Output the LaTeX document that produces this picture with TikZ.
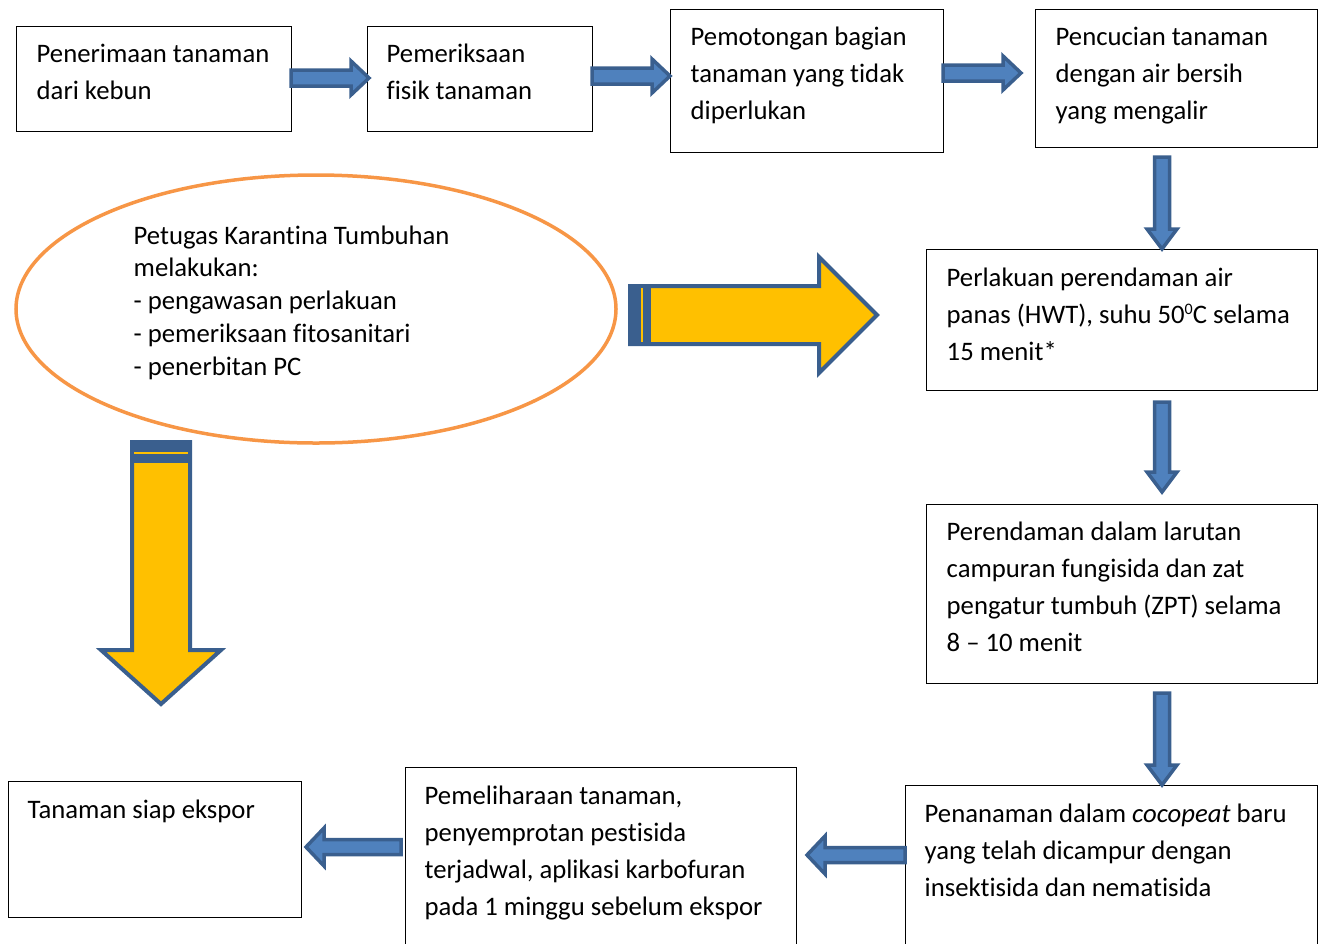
\documentclass[tikz,border=0pt]{standalone}
\usepackage{fontspec}
\setmainfont[Ligatures={NoCommon,NoContextual}]{Carlito}
\usetikzlibrary{calc,shapes.geometric}
\definecolor{bfill}{HTML}{4F81BD}
\definecolor{bline}{HTML}{3A5F8E}
\definecolor{yfill}{HTML}{FFC000}
\definecolor{oline}{HTML}{F79646}
\newcommand\blockarrow[6]{%
  \coordinate (bah) at ($(#3)!#6!(#2)$);
  \draw[#1] ($(#2)!#4!90:(#3)$) -- ($(bah)!#4!90:(#3)$) -- ($(bah)!#5!90:(#3)$) -- (#3)
    -- ($(bah)!#5!-90:(#3)$) -- ($(bah)!#4!-90:(#3)$) -- ($(#2)!#4!-90:(#3)$) -- cycle;}
\newcommand\supzero{\raisebox{8.5pt}{\fontsize{16}{16}\selectfont 0}}
\begin{document}
\begin{tikzpicture}[x=1pt,y=-1pt,
  box/.style={draw=black,line width=1pt,fill=white,inner sep=0pt,outer sep=0pt,anchor=north west},
  txt/.style={inner sep=0pt,anchor=north west,align=left,font=\fontsize{26.7}{37}\selectfont},
  etxt/.style={inner sep=0pt,anchor=north west,align=left,font=\fontsize{26.7}{32.7}\selectfont},
  blue arrow/.style={fill=bfill,draw=bline,line width=3.5pt,line join=miter},
  yellow arrow/.style={fill=yfill,draw=bline,line width=4pt,line join=miter}]
\useasboundingbox (0,0) rectangle (1319,943);
\def\st{\rule{0pt}{22pt}}
% boxes
\node[box,minimum width=275,minimum height=105] (b1) at (16,26) {};
\node[box,minimum width=225,minimum height=105] (b2) at (367,26) {};
\node[box,minimum width=273,minimum height=143] (b3) at (670,9) {};
\node[box,minimum width=282,minimum height=138] (b4) at (1035,9) {};
\node[box,minimum width=391,minimum height=141] (b5) at (926,249) {};
\node[box,minimum width=391,minimum height=179] (b6) at (926,504) {};
\node[box,minimum width=412,minimum height=175] (b7) at (905,785) {};
\node[box,minimum width=391,minimum height=193] (b8) at (405,767) {};
\node[box,minimum width=293,minimum height=136] (b9) at (8,781) {};
\node[ellipse,draw=oline,line width=3.5pt,inner sep=0pt,minimum width=600,minimum height=268] (ell) at (316,309) {};
% texts
\node[txt] (t1) at (36.5,40.5) {\st Penerimaan tanaman\\dari kebun};
\node[txt] (t2) at (386.5,40.5) {\st Pemeriksaan\\fisik tanaman};
\node[txt] (t3) at (690.5,23.5) {\st Pemotongan bagian\\tanaman yang tidak\\diperlukan};
\node[txt] (t4) at (1055.5,23.5) {\st Pencucian tanaman\\dengan air bersih\\yang mengalir};
\node[txt] (t5) at (946.5,264) {\st Perlakuan perendaman air\\panas (HWT), suhu 50\supzero C selama\\15 menit*};
\node[txt] (t6) at (946.5,518) {\st Perendaman dalam larutan\\campuran fungisida dan zat\\pengatur tumbuh (ZPT) selama\\8 – 10 menit};
\node[txt] (t7) at (924.5,800) {\st Penanaman dalam \textit{cocopeat} baru\\yang telah dicampur dengan\\insektisida dan nematisida};
\node[txt] (t8) at (424.5,782.5) {\st Pemeliharaan tanaman,\\penyemprotan pestisida\\terjadwal, aplikasi karbofuran\\pada 1 minggu sebelum ekspor};
\node[txt] (t9) at (27.5,796) {\st Tanaman siap ekspor};
\node[etxt] (tell) at (133.5,222) {\st Petugas Karantina Tumbuhan\\melakukan:\\- pengawasan perlakuan\\- pemeriksaan fitosanitari\\- penerbitan PC};
% blue arrows
\coordinate (a1s) at (b1.east |- 0,78);  \coordinate (a1e) at (369,78);
\coordinate (a2s) at (b2.east |- 0,76);  \coordinate (a2e) at (b3.west |- 0,76);
\coordinate (a3s) at (b3.east |- 0,73);  \coordinate (a3e) at (1021,73);
\coordinate (d1s) at (1162,157);         \coordinate (d1e) at (b5.north -| 1162,0);
\coordinate (d2s) at (1162,402);         \coordinate (d2e) at (1162,492);
\coordinate (d3s) at (1162,693);         \coordinate (d3e) at (b7.north -| 1162,0);
\coordinate (l1s) at (b7.west |- 0,855); \coordinate (l1e) at (807,855);
\coordinate (l2s) at (401,847);          \coordinate (l2e) at (306,847);
\blockarrow{blue arrow}{a1s}{a1e}{8pt}{17pt}{18pt}
\blockarrow{blue arrow}{a2s}{a2e}{8pt}{17pt}{18pt}
\blockarrow{blue arrow}{a3s}{a3e}{8pt}{17pt}{18pt}
\blockarrow{blue arrow}{d1s}{d1e}{7.5pt}{15pt}{20pt}
\blockarrow{blue arrow}{d2s}{d2e}{7.5pt}{15pt}{20pt}
\blockarrow{blue arrow}{d3s}{d3e}{7.5pt}{15pt}{20pt}
\blockarrow{blue arrow}{l1s}{l1e}{7.5pt}{19pt}{18pt}
\blockarrow{blue arrow}{l2s}{l2e}{7.5pt}{19pt}{18pt}
% yellow arrows
\coordinate (y1s) at (630,315); \coordinate (y1e) at (877,315);
\coordinate (y2s) at (161,442); \coordinate (y2e) at (161,704);
\blockarrow{yellow arrow}{y1s}{y1e}{29pt}{58pt}{58pt}
\blockarrow{yellow arrow}{y2s}{y2e}{29pt}{60pt}{54pt}
\fill[bline] (630,286) rectangle (651,344);
\draw[yfill,line width=1.5pt] (642,288) -- (642,342);
\fill[bline] (132,442) rectangle (190,463);
\draw[yfill,line width=1.5pt] (134,453) -- (188,453);
\end{tikzpicture}
\end{document}
